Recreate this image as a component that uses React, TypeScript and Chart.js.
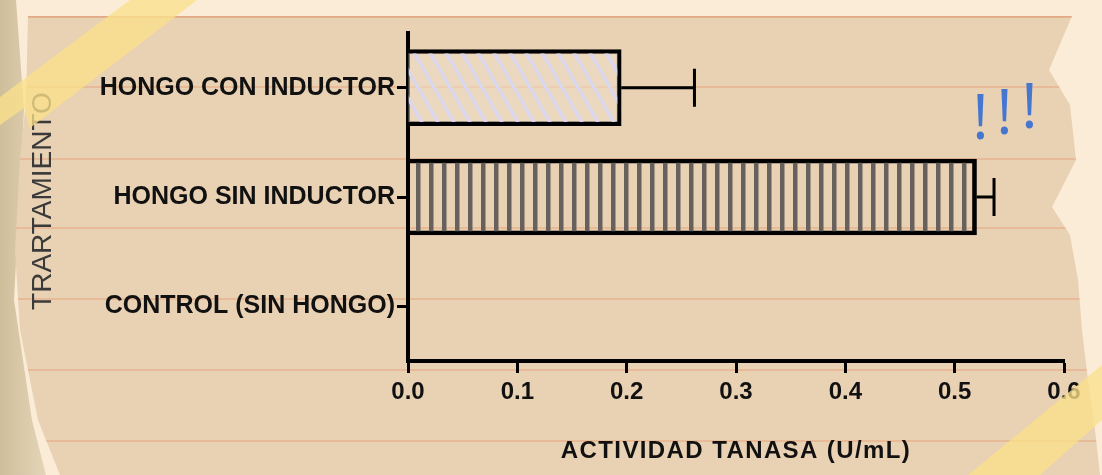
import React, { useEffect, useRef } from "react";
import { Chart, registerables } from "chart.js";

Chart.register(...registerables);

// ---- Data ----
const categories = ["HONGO CON INDUCTOR", "HONGO SIN INDUCTOR", "CONTROL (SIN HONGO)"];
const tanaseActivity = [0.195, 0.52, 0];
const errorValues = [0.067, 0.016, 0];
const xTickValues = [0, 0.1, 0.2, 0.3, 0.4, 0.5, 0.6];
const xAxisTitle = "ACTIVIDAD TANASA (U/mL)";
const yAxisTitle = "TRARTAMIENTO";
const exclamationMarks = ["!", "!", "!"];

const FONT = '"Liberation Sans", Arial, sans-serif';

function makeDiagonalPattern(): CanvasPattern | string {
  const c = document.createElement("canvas");
  c.width = 16;
  c.height = 28;
  const g = c.getContext("2d");
  if (!g) return "rgba(220,218,240,0.6)";
  g.fillStyle = "rgba(238,222,200,0.55)";
  g.fillRect(0, 0, 16, 28);
  g.strokeStyle = "rgba(216,214,240,0.95)";
  g.lineWidth = 3.5;
  g.beginPath();
  for (const x0 of [-16, 0, 16]) {
    g.moveTo(x0 - 1, -1.75);
    g.lineTo(x0 + 17, 29.75);
  }
  g.stroke();
  return g.createPattern(c, "repeat") || "rgba(220,218,240,0.6)";
}

function makeVerticalPattern(): CanvasPattern | string {
  const c = document.createElement("canvas");
  c.width = 13;
  c.height = 4;
  const g = c.getContext("2d");
  if (!g) return "#777";
  g.fillStyle = "#66615c";
  g.fillRect(0, 0, 4.5, 4);
  return g.createPattern(c, "repeat") || "#777";
}

const backgroundPlugin = {
  id: "paperBackground",
  beforeDraw(chart: any) {
    const ctx = chart.ctx as CanvasRenderingContext2D;
    const W = chart.width;
    const H = chart.height;
    ctx.save();
    ctx.fillStyle = "#fbecd8";
    ctx.fillRect(0, 0, W, H);
    const lg = ctx.createLinearGradient(0, 0, 45, 0);
    lg.addColorStop(0, "#cfbe9a");
    lg.addColorStop(1, "#e4d5b8");
    ctx.fillStyle = lg;
    ctx.beginPath();
    ctx.moveTo(0, 0);
    ctx.lineTo(16, 0);
    ctx.lineTo(24, 110);
    ctx.lineTo(14, 300);
    ctx.lineTo(32, 420);
    ctx.lineTo(46, 475);
    ctx.lineTo(0, 475);
    ctx.closePath();
    ctx.fill();

    const paper: [number, number][] = [
      [28, 16], [1072, 16], [1049, 70], [1070, 105], [1076, 160], [1052, 207],
      [1070, 235], [1078, 280], [1082, 330], [1088, 380], [1095, 430], [1100, 475],
      [60, 475], [38, 420], [20, 330], [15, 250], [20, 160], [26, 100],
    ];
    ctx.beginPath();
    paper.forEach(([x, y], i) => (i === 0 ? ctx.moveTo(x, y) : ctx.lineTo(x, y)));
    ctx.closePath();
    ctx.fillStyle = "#e9d1b3";
    ctx.fill();
    ctx.clip();
    ctx.strokeStyle = "rgba(226,160,118,0.6)";
    ctx.lineWidth = 1.5;
    for (const y of [87, 159, 228, 299, 370, 441]) {
      ctx.beginPath();
      ctx.moveTo(0, y);
      ctx.lineTo(W, y);
      ctx.stroke();
    }
    ctx.strokeStyle = "rgba(222,160,120,0.8)";
    ctx.lineWidth = 2.5;
    ctx.beginPath();
    ctx.moveTo(0, 16.5);
    ctx.lineTo(W, 16.5);
    ctx.stroke();
    ctx.restore();
  },
};

const overlayPlugin = {
  id: "overlayDecor",
  afterDatasetsDraw(chart: any) {
    const ctx = chart.ctx as CanvasRenderingContext2D;
    const xs = chart.scales.x;
    const meta = chart.getDatasetMeta(0);
    ctx.save();
    ctx.strokeStyle = "#000";
    ctx.lineWidth = 3;
    meta.data.forEach((bar: any, i: number) => {
      const err = errorValues[i];
      if (!err) return;
      const x0 = xs.getPixelForValue(tanaseActivity[i]);
      const x1 = xs.getPixelForValue(tanaseActivity[i] + err);
      const y = bar.y;
      ctx.beginPath();
      ctx.moveTo(x0, y);
      ctx.lineTo(x1, y);
      ctx.moveTo(x1, y - 19);
      ctx.lineTo(x1, y + 19);
      ctx.stroke();
    });
    ctx.restore();
  },
  afterDraw(chart: any) {
    const ctx = chart.ctx as CanvasRenderingContext2D;
    const area = chart.chartArea;
    ctx.save();
    ctx.fillStyle = "#111";
    ctx.font = `bold 24px ${FONT}`;
    (ctx as any).letterSpacing = "1.4px";
    ctx.textAlign = "center";
    ctx.textBaseline = "alphabetic";
    ctx.fillText(xAxisTitle, (area.left + area.right) / 2, 458);
    (ctx as any).letterSpacing = "0px";
    ctx.translate(43, 201);
    ctx.rotate(-Math.PI / 2);
    ctx.fillStyle = "#3a3a3a";
    ctx.font = `28px ${FONT}`;
    ctx.textBaseline = "middle";
    ctx.fillText(yAxisTitle, 0, 0);
    ctx.restore();

    ctx.save();
    ctx.fillStyle = "#4677d0";
    ctx.font = `400 62px "Open Sans", ${FONT}`;
    ctx.textAlign = "center";
    ctx.textBaseline = "alphabetic";
    const pos: [number, number][] = [[980.5, 139], [1004.5, 134], [1029.5, 128]];
    exclamationMarks.forEach((m, i) => ctx.fillText(m, pos[i][0], pos[i][1]));
    ctx.restore();

    ctx.save();
    ctx.fillStyle = "rgba(250,224,138,0.78)";
    ctx.beginPath();
    ctx.moveTo(130, 0);
    ctx.lineTo(197, 0);
    ctx.lineTo(30, 128);
    ctx.lineTo(24, 108);
    ctx.lineTo(0, 125);
    ctx.lineTo(0, 97);
    ctx.closePath();
    ctx.fill();
    ctx.beginPath();
    ctx.moveTo(968, 475);
    ctx.lineTo(1102, 365);
    ctx.lineTo(1102, 420);
    ctx.lineTo(1040, 475);
    ctx.closePath();
    ctx.fill();
    ctx.restore();
  },
};

export default function App() {
  const canvasRef = useRef<HTMLCanvasElement | null>(null);

  useEffect(() => {
    document.body.style.margin = "0";
    const canvas = canvasRef.current;
    if (!canvas) return;
    const chart = new Chart(canvas, {
      type: "bar",
      data: {
        labels: categories,
        datasets: [
          {
            data: tanaseActivity,
            backgroundColor: [makeDiagonalPattern(), makeVerticalPattern(), "transparent"] as any,
            borderColor: "#000",
            borderWidth: 4,
            borderSkipped: "start",
            barThickness: 76,
          },
        ],
      },
      options: {
        indexAxis: "y",
        animation: false,
        responsive: false,
        devicePixelRatio: 1,
        layout: { padding: { left: 0, top: 33, right: 38, bottom: 0 } },
        plugins: {
          legend: { display: false },
          tooltip: { enabled: false },
        },
        scales: {
          x: {
            type: "linear",
            min: 0,
            max: 0.6,
            afterFit: (scale: any) => {
              scale.height = 114;
            },
            afterBuildTicks: (scale: any) => {
              scale.ticks = xTickValues.map((v) => ({ value: v }));
            },
            ticks: {
              color: "#111",
              font: { family: FONT, size: 24, weight: "bold" },
              padding: 5,
              callback: (v: any) => Number(v).toFixed(1),
            },
            grid: {
              drawOnChartArea: false,
              tickLength: 12,
              tickWidth: 3,
              tickColor: "#000",
              color: "#000",
            },
            border: { color: "#000", width: 4 },
          },
          y: {
            type: "category",
            afterFit: (scale: any) => {
              scale.width = 408;
            },
            ticks: {
              color: "#111",
              font: { family: FONT, size: 25, weight: "bold" },
              padding: 2,
            },
            grid: {
              offset: false,
              drawOnChartArea: false,
              tickLength: 11,
              tickWidth: 3,
              tickColor: "#000",
              color: "#000",
            },
            border: { color: "#000", width: 4 },
          },
        },
      } as any,
      plugins: [backgroundPlugin, overlayPlugin],
    });
    return () => chart.destroy();
  }, []);

  return (
    <div style={{ width: 1102, height: 475 }}>
      <canvas ref={canvasRef} width={1102} height={475} style={{ display: "block" }} />
    </div>
  );
}
